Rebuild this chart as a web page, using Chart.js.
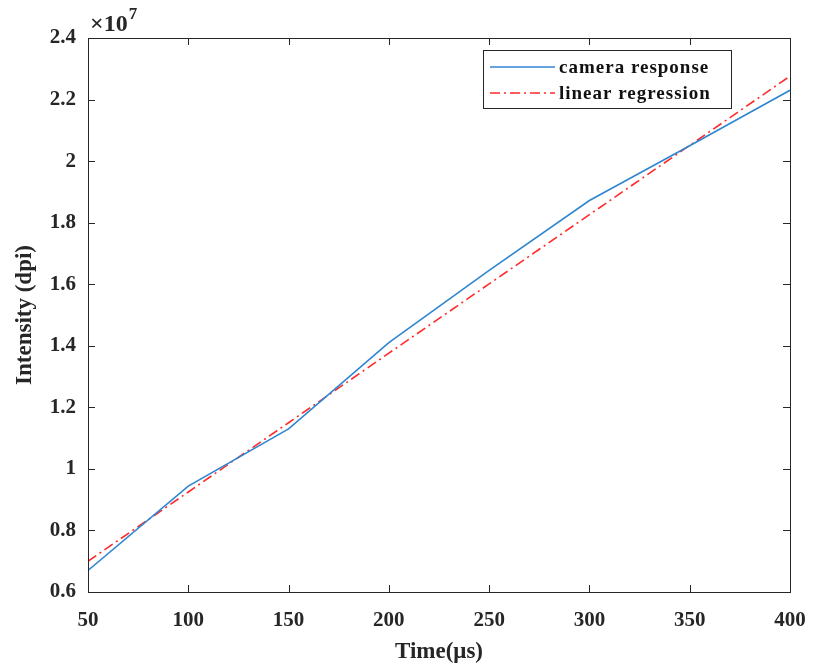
<!DOCTYPE html>
<html>
<head>
<meta charset="utf-8">
<script src="https://cdn.jsdelivr.net/npm/chart.js@4.4.1/dist/chart.umd.min.js"></script>
<style>
  body { margin: 0; background: #fff; }
</style>
</head>
<body>
<canvas id="plot" width="813" height="671"></canvas>
<script>
// values (intensity in units of 1e7)
const times = [50, 100, 150, 200, 250, 300, 350, 400]
const cameraResponse = [0.67, 0.944, 1.13, 1.41, 1.645, 1.872, 2.05, 2.23]
const linearRegression = [0.70, 0.925, 1.15, 1.376, 1.601, 1.826, 2.051, 2.276]
const xTicks = [50, 100, 150, 200, 250, 300, 350, 400]
const yTicks = [0.6, 0.8, 1, 1.2, 1.4, 1.6, 1.8, 2, 2.2, 2.4]

const AXIS = '#262626'
const FONT = '"Liberation Serif", "Times New Roman", serif'

// matlab-like box with inward ticks, the x10^7 label and the legend
const boxPlugin = {
    id: 'matlabBox',
    afterDraw(chart) {
        const ctx = chart.ctx
        const a = chart.chartArea
        const xs = chart.scales.x, ys = chart.scales.y
        ctx.save()
        ctx.strokeStyle = AXIS
        ctx.lineWidth = 1
        ctx.strokeRect(a.left + 0.5, a.top + 0.5, a.right - a.left, a.bottom - a.top)
        ctx.beginPath()
        xTicks.forEach(t => {
            let px = Math.round(xs.getPixelForValue(t)) + 0.5
            ctx.moveTo(px, a.bottom); ctx.lineTo(px, a.bottom - 7)
            ctx.moveTo(px, a.top); ctx.lineTo(px, a.top + 7)
        })
        yTicks.forEach(t => {
            let py = Math.round(ys.getPixelForValue(t)) + 0.5
            ctx.moveTo(a.left, py); ctx.lineTo(a.left + 7, py)
            ctx.moveTo(a.right, py); ctx.lineTo(a.right - 7, py)
        })
        ctx.stroke()

        // exponent
        ctx.fillStyle = AXIS
        ctx.textBaseline = 'alphabetic'
        ctx.font = 'bold 24px ' + FONT
        ctx.fillText('\u00d710', a.left + 2, 31)
        let w = ctx.measureText('\u00d710').width
        ctx.font = 'bold 17px ' + FONT
        ctx.fillText('7', a.left + 2 + w + 1, 19)

        // legend
        const lx = 483, ly = 50, lw = 248, lh = 58
        ctx.fillStyle = '#fff'
        ctx.fillRect(lx, ly, lw, lh)
        ctx.strokeStyle = AXIS
        ctx.strokeRect(lx + 0.5, ly + 0.5, lw, lh)
        const rows = [
            { label: 'camera response', color: chart.data.datasets[0].borderColor, dash: [] },
            { label: 'linear regression', color: chart.data.datasets[1].borderColor, dash: [10, 4, 2, 4] }
        ]
        rows.forEach((r, i) => {
            let y = ly + 17 + i * 26
            ctx.beginPath()
            ctx.setLineDash(r.dash)
            ctx.strokeStyle = r.color
            ctx.lineWidth = 1.5
            ctx.moveTo(lx + 7, y); ctx.lineTo(lx + 72, y)
            ctx.stroke()
            ctx.setLineDash([])
            ctx.fillStyle = '#111'
            ctx.font = 'bold 19px ' + FONT
            ctx.textBaseline = 'middle'
            ctx.letterSpacing = '1px'
            ctx.fillText(r.label, lx + 76, y + 1)
            ctx.letterSpacing = '0px'
        })
        ctx.restore()
    }
}

new Chart(document.getElementById('plot'), {
    type: 'line',
    data: {
        datasets: [
            {
                label: 'camera response',
                data: times.map((t, i) => ({ x: t, y: cameraResponse[i] })),
                borderColor: '#2f86d0',
                borderWidth: 1.6,
                pointRadius: 0,
                tension: 0
            },
            {
                label: 'linear regression',
                data: times.map((t, i) => ({ x: t, y: linearRegression[i] })),
                borderColor: '#ff2a2a',
                borderWidth: 1.6,
                borderDash: [10, 4, 2, 4],
                pointRadius: 0,
                tension: 0
            }
        ]
    },
    options: {
        responsive: false,
        animation: false,
        layout: { padding: { top: 38, right: 23, left: 0, bottom: 0 } },
        plugins: {
            legend: { display: false },
            tooltip: { enabled: false }
        },
        scales: {
            x: {
                type: 'linear',
                min: 50,
                max: 400,
                afterBuildTicks: s => { s.ticks = xTicks.map(v => ({ value: v })) },
                afterFit: s => { s.height = 79; s.paddingLeft = 0; s.paddingRight = 0 },
                grid: { display: false, drawTicks: false },
                border: { display: false },
                ticks: {
                    color: AXIS,
                    padding: 16,
                    maxRotation: 0,
                    font: { family: FONT, size: 21, weight: 'bold' }
                },
                title: {
                    display: true,
                    text: 'Time(\u03bcs)',
                    color: AXIS,
                    padding: { top: 0, bottom: 5 },
                    font: { family: FONT, size: 23, weight: 'bold' }
                }
            },
            y: {
                type: 'linear',
                min: 0.6,
                max: 2.4,
                afterBuildTicks: s => { s.ticks = yTicks.map(v => ({ value: v })) },
                afterFit: s => { s.width = 88; s.paddingTop = 0; s.paddingBottom = 0 },
                grid: { display: false, drawTicks: false },
                border: { display: false },
                ticks: {
                    color: AXIS,
                    padding: 12,
                    callback: v => String(Math.round(v * 10) / 10),
                    font: { family: FONT, size: 21, weight: 'bold' }
                },
                title: {
                    display: true,
                    text: 'Intensity (dpi)',
                    color: AXIS,
                    padding: { top: 11, bottom: 0 },
                    font: { family: FONT, size: 23, weight: 'bold' }
                }
            }
        }
    },
    plugins: [boxPlugin]
})
</script>
</body>
</html>
